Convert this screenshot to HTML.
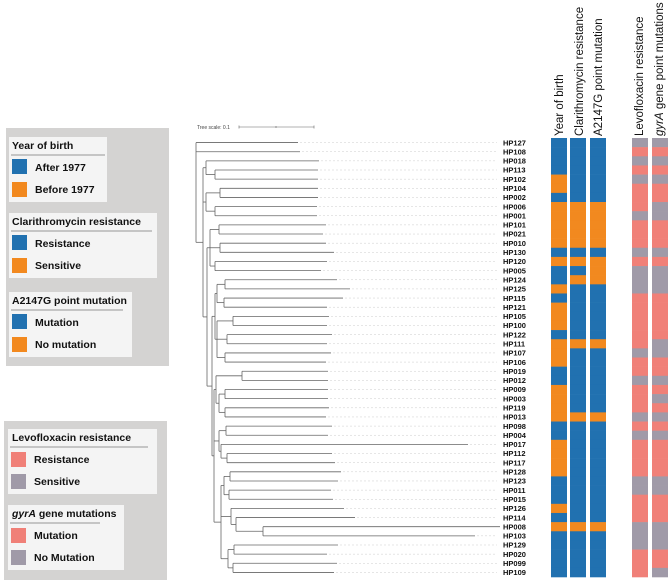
<!DOCTYPE html>
<html><head><meta charset="utf-8">
<style>
body{margin:0;background:#fff;width:669px;height:581px;overflow:hidden;font-family:"Liberation Sans",Arial,sans-serif}
svg{display:block}
</style></head>
<body>
<svg id="fig" width="669" height="581" xmlns="http://www.w3.org/2000/svg" font-family="Liberation Sans, Arial, sans-serif">
<g id="legend">
  <rect x="6" y="128" width="163" height="238" fill="#d4d3d2"/>
  <rect x="9" y="137" width="98" height="65" fill="#f4f4f4"/>
  <text x="12" y="149" font-size="10.5" font-weight="bold" fill="#111">Year of birth</text>
  <line x1="11" y1="155" x2="105" y2="155" stroke="#777" stroke-width="0.7"/>
  <rect x="12" y="159" width="15" height="15" fill="#2171b0"/>
  <text x="35" y="171" font-size="10.5" font-weight="bold" fill="#111">After 1977</text>
  <rect x="12" y="182" width="15" height="15" fill="#f2891f"/>
  <text x="35" y="193" font-size="10.5" font-weight="bold" fill="#111">Before 1977</text>

  <rect x="9" y="213" width="148" height="65" fill="#f4f4f4"/>
  <text x="12" y="225" font-size="10.5" font-weight="bold" fill="#111">Clarithromycin resistance</text>
  <line x1="11" y1="231" x2="152" y2="231" stroke="#777" stroke-width="0.7"/>
  <rect x="12" y="235" width="15" height="15" fill="#2171b0"/>
  <text x="35" y="247" font-size="10.5" font-weight="bold" fill="#111">Resistance</text>
  <rect x="12" y="258" width="15" height="15" fill="#f2891f"/>
  <text x="35" y="269" font-size="10.5" font-weight="bold" fill="#111">Sensitive</text>

  <rect x="9" y="292" width="123" height="65" fill="#f4f4f4"/>
  <text x="12" y="304" font-size="10.5" font-weight="bold" fill="#111">A2147G point mutation</text>
  <line x1="11" y1="310" x2="123" y2="310" stroke="#777" stroke-width="0.7"/>
  <rect x="12" y="314" width="15" height="15" fill="#2171b0"/>
  <text x="35" y="326" font-size="10.5" font-weight="bold" fill="#111">Mutation</text>
  <rect x="12" y="337" width="15" height="15" fill="#f2891f"/>
  <text x="35" y="348" font-size="10.5" font-weight="bold" fill="#111">No mutation</text>

  <rect x="4" y="421" width="163" height="159" fill="#d4d3d2"/>
  <rect x="8" y="429" width="149" height="65" fill="#f4f4f4"/>
  <text x="12" y="441" font-size="10.5" font-weight="bold" fill="#111">Levofloxacin resistance</text>
  <line x1="10" y1="447" x2="148" y2="447" stroke="#777" stroke-width="0.7"/>
  <rect x="11" y="452" width="15" height="15" fill="#f08078"/>
  <text x="34" y="463" font-size="10.5" font-weight="bold" fill="#111">Resistance</text>
  <rect x="11" y="474" width="15" height="15" fill="#a09aa8"/>
  <text x="34" y="485" font-size="10.5" font-weight="bold" fill="#111">Sensitive</text>

  <rect x="8" y="505" width="116" height="65" fill="#f4f4f4"/>
  <text x="12" y="517" font-size="10.5" font-weight="bold" fill="#111"><tspan font-style="italic">gyrA</tspan> gene mutations</text>
  <line x1="10" y1="523" x2="100" y2="523" stroke="#777" stroke-width="0.7"/>
  <rect x="11" y="528" width="15" height="15" fill="#f08078"/>
  <text x="34" y="539" font-size="10.5" font-weight="bold" fill="#111">Mutation</text>
  <rect x="11" y="550" width="15" height="15" fill="#a09aa8"/>
  <text x="34" y="561" font-size="10.5" font-weight="bold" fill="#111">No Mutation</text>
</g>
<g>
  <text x="197" y="129" font-size="5" fill="#444">Tree scale: 0.1</text>
  <line x1="239" y1="127" x2="314" y2="127" stroke="#666" stroke-width="0.6"/>
  <line x1="239" y1="125.5" x2="239" y2="128.5" stroke="#666" stroke-width="0.6"/>
  <line x1="276" y1="126" x2="276" y2="128" stroke="#666" stroke-width="0.6"/>
  <line x1="314" y1="125.5" x2="314" y2="128.5" stroke="#666" stroke-width="0.6"/>
</g>
<g id="headers" font-size="11.5" fill="#111">
  <text transform="translate(563,136) rotate(-90)">Year of birth</text>
  <text transform="translate(583,136) rotate(-90)">Clarithromycin resistance</text>
  <text transform="translate(602,136) rotate(-90)">A2147G point mutation</text>
  <text transform="translate(643,136) rotate(-90)">Levofloxacin resistance</text>
  <text transform="translate(663,136) rotate(-90)"><tspan font-style="italic">gyrA</tspan> gene point mutations</text>
</g>
<g id="tree"></g>
<g id="labels"></g>
<g id="cols"></g>
</svg>
<script>
const leaves = ["HP127","HP108","HP018","HP113","HP102","HP104","HP002","HP006","HP001","HP101","HP021","HP010","HP130","HP120","HP005","HP124","HP125","HP115","HP121","HP105","HP100","HP122","HP111","HP107","HP106","HP019","HP012","HP009","HP003","HP119","HP013","HP098","HP004","HP017","HP112","HP117","HP128","HP123","HP011","HP015","HP126","HP114","HP008","HP103","HP129","HP020","HP099","HP109"];
const leafEnd = [298,300,319,318,318,318,318,317,317,326,323,326,334,327,321,337,350,343,327,329,327,332,327,331,326,328,328,328,328,329,326,332,328,468,332,335,341,338,331,333,344,355,500,475,338,327,337,334];
const yearOfBirth = "BBBBOOBOOOOOBOBBOBOOOBOOOBBOOOOBBOOOOBBBOBOBBBBB";
const clarithro   = "BBBBBBBOOOOOBOBOBBBBBBOBBBBBBBOBBBBBBBBBBBOBBBBB";
const a2147g      = "BBBBBBBOOOOOBOOOBBBBBBOBBBBBBBOBBBBBBBBBBBOBBBBB";
const levo        = "GRGRGRRRGRRRGRGGGRRRRRRGRRGRRRGRGRRRRGGRRRGGGRRR";
const gyrA        = "GRGRGRRGGRRRGRGGGRRRRRGGRRGRGRGRGRRRRGGRRRGGGRRG";
// tree topology (node x positions in px)
const tree = {x:196,c:["HP127","HP108",{x:203,c:[
  {x:206,c:["HP018",{x:215,c:["HP113","HP102"]}]},
  {x:206,c:[{x:220,c:["HP104","HP002"]},{x:215,c:["HP006","HP001"]}]},
  {x:207,c:[
    {x:210,c:[{x:219,c:["HP101","HP021"]},{x:220,c:["HP010","HP130"]},{x:215,c:["HP120","HP005"]}]},
    {x:212,c:[
      {x:215,c:[{x:217,c:[{x:225,c:["HP124","HP125"]},{x:224,c:["HP115","HP121"]}]},
               {x:217,c:[{x:233,c:["HP105","HP100"]},{x:227,c:["HP122","HP111"]},{x:225,c:["HP107","HP106"]}]}]},
      {x:214,c:[
        {x:216,c:[{x:242,c:["HP019","HP012"]},{x:219,c:[{x:225,c:["HP009","HP003"]},{x:225,c:["HP119","HP013"]}]}]},
        {x:219,c:[{x:226,c:["HP098","HP004"]},{x:221,c:["HP017",{x:227,c:["HP112","HP117"]}]}]},
        {x:221,c:[
          {x:224,c:[{x:230,c:["HP128","HP123"]},{x:229,c:["HP011","HP015"]}]},
          {x:231,c:["HP126",{x:236,c:["HP114",{x:263,c:["HP008","HP103"]}]}]},
          {x:228,c:[{x:234,c:["HP129","HP020"]},{x:233,c:["HP099","HP109"]}]}
        ]}
      ]}
    ]}
  ]}
]}]};
const TOP=138, RH=(577-138)/leaves.length;
const rowY = i => TOP + RH*i + RH/2;
const NS="http://www.w3.org/2000/svg";
const tg=document.getElementById('tree'), lg=document.getElementById('labels'), cg=document.getElementById('cols');
function ln(x1,y1,x2,y2,stroke,w,dash){const l=document.createElementNS(NS,'line');
l.setAttribute('x1',x1);l.setAttribute('y1',y1);l.setAttribute('x2',x2);l.setAttribute('y2',y2);
l.setAttribute('stroke',stroke);l.setAttribute('stroke-width',w);if(dash)l.setAttribute('stroke-dasharray',dash);


tg.appendChild(l);return l;}
function draw(node,px){
  if(typeof node==='string'){const i=leaves.indexOf(node);const y=rowY(i);
    ln(px,y,leafEnd[i],y,'#666',0.8);
    if(leafEnd[i]<497){const d=ln(leafEnd[i]+2,y,497,y,'#ccc',0.5,'2,2');}
    return y;}
  const ys=node.c.map(ch=>draw(ch,node.x));
  const y0=Math.min(...ys),y1=Math.max(...ys);
  ln(node.x,y0,node.x,y1,'#666',0.8);
  const ym=(y0+y1)/2;
  if(px!==null) ln(px,ym,node.x,ym,'#666',0.8);
  return ym;
}
draw(tree,null);
const colors={B:'#2171b0',O:'#f2891f',R:'#f08078',G:'#a09aa8'};
const cols=[[yearOfBirth,551,'year-of-birth'],[clarithro,570,'clarithromycin'],[a2147g,590,'a2147g'],[levo,632,'levofloxacin'],[gyrA,652,'gyra']];
leaves.forEach((name,i)=>{
  const t=document.createElementNS(NS,'text');
  t.setAttribute('x',503);t.setAttribute('y',rowY(i)+2.7);
  t.setAttribute('font-size','7.5');t.setAttribute('font-weight','bold');t.setAttribute('fill','#111');
  t.textContent=name;
  
  
  lg.appendChild(t);
  cols.forEach(([arr,x,key])=>{
    const r=document.createElementNS(NS,'rect');
    r.setAttribute('x',x);r.setAttribute('y',TOP+RH*i);r.setAttribute('width',16);r.setAttribute('height',RH+0.3);
    r.setAttribute('fill',colors[arr[i]]);
    
    
    cg.appendChild(r);
  });
});
</script>
</body></html>
